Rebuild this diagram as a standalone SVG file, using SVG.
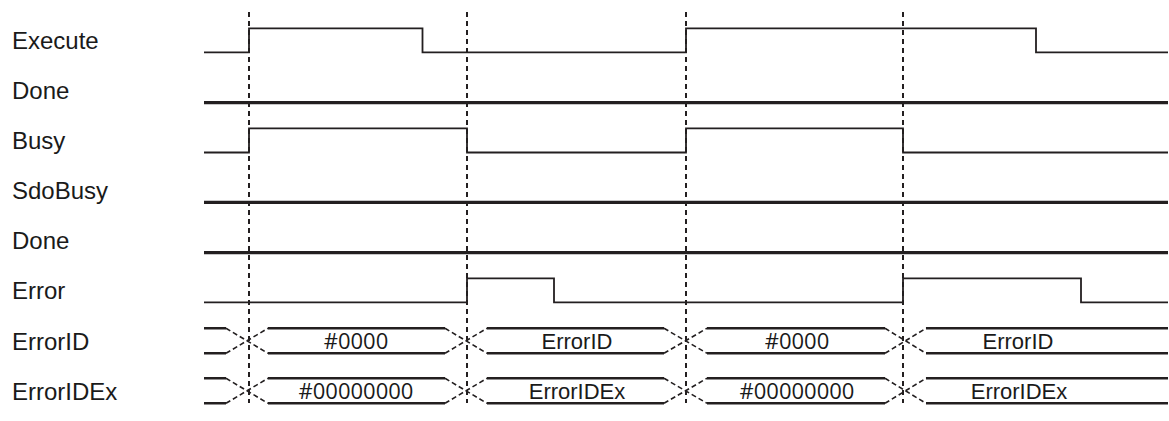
<svg xmlns="http://www.w3.org/2000/svg" width="1169" height="421" viewBox="0 0 1169 421">
<style>
.lbl{font-family:"Liberation Sans",Arial,sans-serif;font-size:24px;fill:#1a1a1a}
.bt{font-family:"Liberation Sans",Arial,sans-serif;font-size:22px;fill:#1a1a1a;text-anchor:middle}
.bh{font-family:"Open Sans","Noto Sans",sans-serif;font-size:22px;fill:#1a1a1a;text-anchor:middle}
.sig{fill:none;stroke:#231f20;stroke-width:1.8;stroke-linejoin:miter}
.thick{fill:none;stroke:#231f20;stroke-width:3.2}
.bus{fill:none;stroke:#231f20;stroke-width:2.6}
.x{fill:none;stroke:#231f20;stroke-width:1.6;stroke-dasharray:5 3}
.guide{fill:none;stroke:#231f20;stroke-width:2;stroke-dasharray:5 4}
</style>
<rect width="1169" height="421" fill="#fff"/>
<g id="labels">
<text class="lbl" x="12" y="49">Execute</text>
<text class="lbl" x="12" y="99">Done</text>
<text class="lbl" x="12" y="149">Busy</text>
<text class="lbl" x="12" y="199">SdoBusy</text>
<text class="lbl" x="12" y="249">Done</text>
<text class="lbl" x="12" y="299">Error</text>
<text class="lbl" x="12" y="350">ErrorID</text>
<text class="lbl" x="12" y="400">ErrorIDEx</text>
</g>
<g id="connectors">
<line class="guide" x1="249" y1="12" x2="249" y2="403"/>
<line class="guide" x1="467" y1="12" x2="467" y2="403"/>
<line class="guide" x1="686" y1="12" x2="686" y2="403"/>
<line class="guide" x1="903" y1="12" x2="903" y2="403"/>
</g>
<g id="execute">
<polyline class="sig" points="204,52.3 249,52.3 249,28.3 422.5,28.3 422.5,52.3 686,52.3 686,28.3 1036,28.3 1036,52.3 1168,52.3"/>
</g>
<g id="done1">
<line class="thick" x1="204" y1="102.6" x2="1168" y2="102.6"/>
</g>
<g id="busy">
<polyline class="sig" points="204,152.5 249,152.5 249,128.3 467,128.3 467,152.5 686,152.5 686,128.3 903,128.3 903,152.5 1168,152.5"/>
</g>
<g id="sdobusy">
<line class="thick" x1="204" y1="202.3" x2="1168" y2="202.3"/>
</g>
<g id="done2">
<line class="thick" x1="204" y1="252.6" x2="1168" y2="252.6"/>
</g>
<g id="error">
<polyline class="sig" points="204,302.3 467,302.3 467,278.3 554,278.3 554,302.3 903,302.3 903,278.3 1081,278.3 1081,302.3 1168,302.3"/>
</g>
<g id="errorid">
<path class="bus" d="M204,328.3H226M204,353.3H226M268,328.3H445M268,353.3H445M487,328.3H664M487,353.3H664M707,328.3H885M707,353.3H885M926,328.3H1168M926,353.3H1168"/>
<path class="x" d="M226,328.3L268,353.3M226,353.3L268,328.3M445,328.3L487,353.3M445,353.3L487,328.3M664,328.3L707,353.3M664,353.3L707,328.3M885,328.3L926,353.3M885,353.3L926,328.3"/>
<text class="bh" x="356" y="349">#0000</text>
<text class="bt" x="577" y="349">ErrorID</text>
<text class="bh" x="797" y="349">#0000</text>
<text class="bt" x="1018" y="349">ErrorID</text>
</g>
<g id="erroridex">
<path class="bus" d="M204,378.3H226M204,403.3H226M268,378.3H445M268,403.3H445M487,378.3H664M487,403.3H664M707,378.3H885M707,403.3H885M926,378.3H1168M926,403.3H1168"/>
<path class="x" d="M226,378.3L268,403.3M226,403.3L268,378.3M445,378.3L487,403.3M445,403.3L487,378.3M664,378.3L707,403.3M664,403.3L707,378.3M885,378.3L926,403.3M885,403.3L926,378.3"/>
<text class="bh" x="356" y="399">#00000000</text>
<text class="bt" x="577" y="399">ErrorIDEx</text>
<text class="bh" x="797" y="399">#00000000</text>
<text class="bt" x="1019" y="399">ErrorIDEx</text>
</g>
</svg>
